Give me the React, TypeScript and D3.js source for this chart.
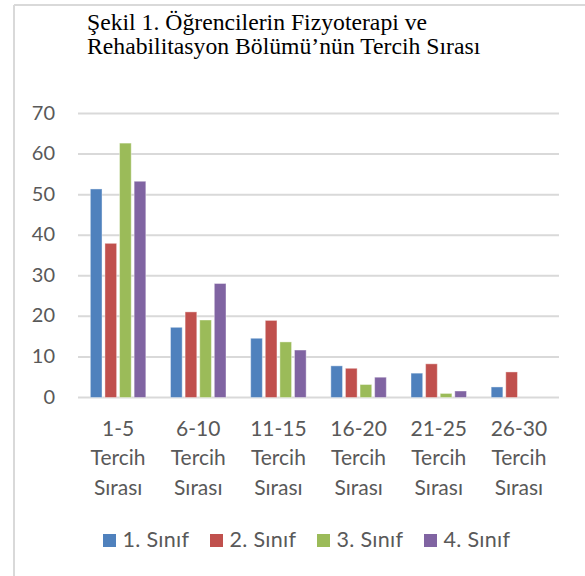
import React from "react";
import * as d3 from "d3";

const categories = ["1-5", "6-10", "11-15", "16-20", "21-25", "26-30"];
const seriesNames = ["1. Sınıf", "2. Sınıf", "3. Sınıf", "4. Sınıf"];
const sinif1 = [51.4, 17.3, 14.6, 7.8, 6.0, 2.6];
const sinif2 = [38.0, 21.1, 19.0, 7.2, 8.3, 6.3];
const sinif3 = [62.7, 19.1, 13.7, 3.2, 1.0, 0];
const sinif4 = [53.3, 28.1, 11.7, 5.0, 1.6, 0];
const seriesValues = [sinif1, sinif2, sinif3, sinif4];
const colors = ["#4F81BD", "#C0504D", "#9BBB59", "#8064A2"];
const yTicks = [0, 10, 20, 30, 40, 50, 60, 70];
const titleLines = ["Şekil 1. Öğrencilerin Fizyoterapi ve", "Rehabilitasyon Bölümü’nün Tercih Sırası"];

export default function App() {
  const W = 585, H = 576;
  const x = d3.scaleBand<string>().domain(categories).range([78, 559]);
  const xs = d3.scaleBand<string>().domain(seriesNames).range([-29.2, 29.2]).paddingInner(0.2).paddingOuter(0.1);
  const y = d3.scaleLinear().domain([0, 70]).range([397.5, 113.5]);
  const legend = d3.scaleBand<string>().domain(seriesNames).range([103, 531]);
  const sans = "Lato, 'Open Sans', sans-serif";
  const gray = "#595959";

  return (
    <svg width={W} height={H} style={{ position: "absolute", left: 0, top: 0, background: "#fff" }}>
      <rect x={0} y={0} width={W} height={H} fill="#fff" />
      <line x1={14} y1={5} x2={W} y2={5} stroke="#D9D9D9" strokeWidth={2} />
      <line x1={14} y1={5} x2={14} y2={H} stroke="#D9D9D9" strokeWidth={2} />
      {titleLines.map((t, i) => (
        <text key={i} x={87} y={30 + i * 24} fontFamily="'Liberation Serif', 'Times New Roman', serif" fontSize={23.7} fill="#000">
          {t}
        </text>
      ))}
      {yTicks.map((t) => (
        <g key={t}>
          <line x1={78} x2={559} y1={y(t)} y2={y(t)} stroke="#D9D9D9" strokeWidth={2} />
          <text x={55} y={y(t) + 1} textAnchor="end" dominantBaseline="middle" fontFamily={sans} fontSize={20} fill={gray}>
            {t}
          </text>
        </g>
      ))}
      {categories.map((c, ci) => (
        <g key={c} transform={`translate(${(x(c) as number) + x.bandwidth() / 2},0)`}>
          {seriesNames.map((s, si) => {
            const v = seriesValues[si][ci];
            if (!v) return null;
            return (
              <rect
                key={s}
                x={xs(s) as number}
                y={y(v)}
                width={xs.bandwidth()}
                height={y(0) - y(v)}
                fill={colors[si]}
                stroke="#fff"
                strokeOpacity={0.4}
                strokeWidth={1}
              />
            );
          })}
          {[c, "Tercih", "Sırası"].map((l, li) => (
            <text key={li} x={0} y={436 + li * 29.3} textAnchor="middle" fontFamily={sans} fontSize={21} fill={gray}>
              {l}
            </text>
          ))}
        </g>
      ))}
      {seriesNames.map((s, si) => {
        const lx = legend(s) as number;
        return (
          <g key={s}>
            <rect x={lx} y={534} width={13} height={13} fill={colors[si]} />
            <text x={lx + 19.5} y={547} fontFamily={sans} fontSize={21.5} letterSpacing={0.3} fill={gray}>
              {s}
            </text>
          </g>
        );
      })}
    </svg>
  );
}
